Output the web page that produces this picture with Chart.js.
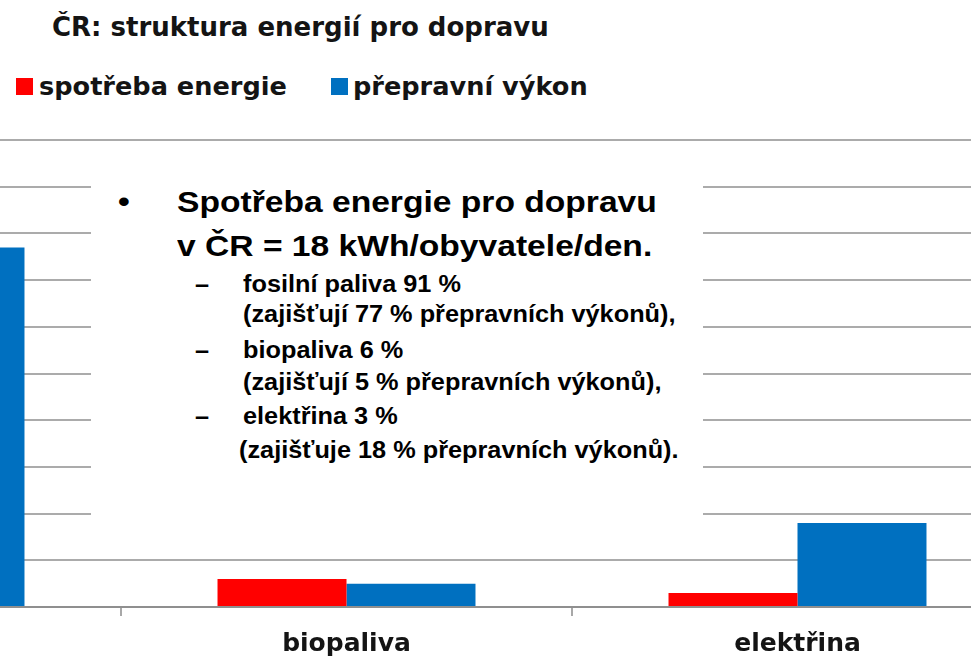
<!DOCTYPE html>
<html>
<head>
<meta charset="utf-8">
<script src="https://cdn.jsdelivr.net/npm/chart.js@4/dist/chart.umd.min.js"></script>
<style>
html, body { margin: 0; padding: 0; background: #ffffff; }
body { width: 971px; height: 661px; overflow: hidden; position: relative; }
#wrap { position: absolute; left: -330px; top: 130px; width: 1353px; height: 531px; }
.t { position: absolute; white-space: nowrap; line-height: 1; color: #141414; }
#title { left: 52px; top: 12px; font: bold 26px 'DejaVu Sans', sans-serif; }
.leg { position: absolute; top: 73.5px; font: bold 25.6px 'DejaVu Sans', sans-serif; line-height: 1; white-space: nowrap; color: #141414; }
.sw { position: absolute; width: 17px; height: 17px; }
#box { position: absolute; left: 91px; top: 150px; width: 612px; height: 385px; background: #ffffff; z-index: 2; }
.b { position: absolute; z-index: 3; white-space: nowrap; line-height: 1; color: #000; font-family: 'Liberation Sans', Arial, sans-serif; font-weight: bold; transform-origin: 0 0; }
.main { font-size: 30px; transform: scaleX(1.12); }
.sub { font-size: 23px; transform: scaleX(1.1); }
</style>
</head>
<body>
<div class="t" id="title">ČR: struktura energií pro dopravu</div>
<div id="legend"></div>
<div id="wrap"><canvas id="c" width="1353" height="531"></canvas></div>

<div id="box"></div>
<div class="b main" style="left:118px;top:186.6px;">•</div>
<div class="b main" style="left:177px;top:186.6px;">Spotřeba energie pro dopravu</div>
<div class="b main" style="left:177px;top:230.6px;">v ČR = 18 kWh/obyvatele/den.</div>
<div class="b sub" style="left:195px;top:272.5px;">–</div>
<div class="b sub" style="left:243px;top:272.5px;">fosilní paliva 91 %</div>
<div class="b sub" style="left:243px;top:302.5px;">(zajišťují 77 % přepravních výkonů),</div>
<div class="b sub" style="left:195px;top:338.5px;">–</div>
<div class="b sub" style="left:243px;top:338.5px;">biopaliva 6 %</div>
<div class="b sub" style="left:243px;top:370.5px;">(zajišťují 5 % přepravních výkonů),</div>
<div class="b sub" style="left:195px;top:404.5px;">–</div>
<div class="b sub" style="left:243px;top:404.5px;">elektřina 3 %</div>
<div class="b sub" style="left:239px;top:438.5px;">(zajišťuje 18 % přepravních výkonů).</div>

<script>
// ---- data ----
const categories = ['fosilní paliva', 'biopaliva', 'elektřina'];
const energyUse = [91, 6, 3];          // spotřeba energie (%)
const transportPerf = [77, 5, 18];     // přepravní výkon (%)
const seriesNames = ['spotřeba energie', 'přepravní výkon'];
const seriesColors = ['#ff0000', '#0070c0'];
const yMin = 0;
const yMax = 100;
const yStep = 10;

// ---- legend (HTML, built from series) ----
const legendEl = document.getElementById('legend');
const legendPos = [{sw: 16, tx: 39}, {sw: 331, tx: 353}];
seriesNames.forEach((name, i) => {
  const sw = document.createElement('div');
  sw.className = 'sw';
  sw.style.left = legendPos[i].sw + 'px';
  sw.style.top = '78px';
  sw.style.background = seriesColors[i];
  legendEl.appendChild(sw);
  const tx = document.createElement('div');
  tx.className = 'leg';
  tx.style.left = legendPos[i].tx + 'px';
  tx.textContent = name;
  legendEl.appendChild(tx);
});

// ---- chart ----
new Chart(document.getElementById('c'), {
  type: 'bar',
  data: {
    labels: categories,
    datasets: [
      { label: seriesNames[0], data: energyUse, backgroundColor: seriesColors[0], borderWidth: 0 },
      { label: seriesNames[1], data: transportPerf, backgroundColor: seriesColors[1], borderWidth: 0 }
    ]
  },
  options: {
    responsive: false,
    animation: false,
    devicePixelRatio: 1,
    layout: { padding: { top: 10, left: 0, right: 0, bottom: 0 } },
    datasets: { bar: { categoryPercentage: 0.572, barPercentage: 1.0 } },
    plugins: {
      legend: { display: false },
      title: { display: false },
      tooltip: { enabled: false }
    },
    scales: {
      x: {
        offset: true,
        grid: { display: true, drawOnChartArea: false, drawTicks: true, tickLength: 9, color: '#a8a8a8', lineWidth: 2, offset: true },
        border: { display: true, color: '#8f8f8f', width: 2 },
        ticks: { color: '#141414', padding: 13, font: { family: 'DejaVu Sans', weight: 'bold', size: 25 } },
        afterFit: (s) => { s.height = 54; }
      },
      y: {
        min: yMin,
        max: yMax,
        ticks: { display: false, stepSize: yStep },
        grid: { color: '#ababab', lineWidth: 2, drawTicks: false },
        border: { display: false },
        afterFit: (s) => { s.width = 0; }
      }
    }
  }
});
</script>
</body>
</html>
